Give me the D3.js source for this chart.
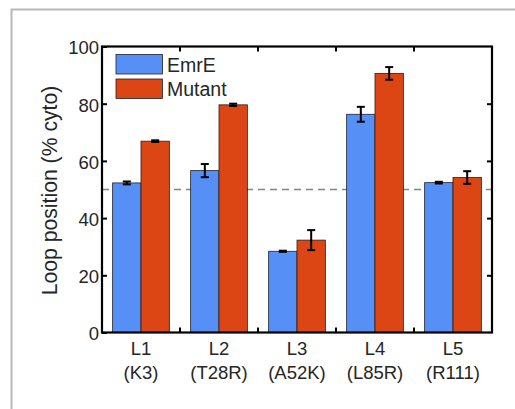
<!DOCTYPE html>
<html>
<head>
<meta charset="utf-8">
<script src="https://cdn.jsdelivr.net/npm/d3@7"></script>
<style>
  body { margin: 0; background: #fff; }
  svg { display: block; font-family: "Liberation Sans", Arial, sans-serif; }
</style>
</head>
<body>
<div id="chart"></div>
<script>
const loops = ["L1", "L2", "L3", "L4", "L5"]
const mutations = ["(K3)", "(T28R)", "(A52K)", "(L85R)", "(R111)"]
const seriesNames = ["EmrE", "Mutant"]
const emreValues = [52.3, 56.6, 28.4, 76.3, 52.4]
const emreErrors = [0.5, 2.3, 0.2, 2.6, 0.3]
const mutantValues = [66.9, 79.6, 32.3, 90.6, 54.2]
const mutantErrors = [0.3, 0.4, 3.5, 2.2, 2.2]
const yTicks = [0, 20, 40, 60, 80, 100]
const threshold = 50

const width = 515
const height = 409
const margin = {top: 46.5, right: 23, bottom: 76.5, left: 102}
const colors = ["#5690f7", "#db4614"]
const textColor = "#262626"

const svg = d3.select("#chart").append("svg")
  .attr("width", width)
  .attr("height", height)

// outer frame of the figure panel
svg.append("path")
  .attr("d", `M11.5,${height} V9.5 H${width}`)
  .attr("fill", "none")
  .attr("stroke", "#b8b8b8")
  .attr("stroke-width", 2)

const x = d3.scaleBand()
  .domain(loops)
  .range([margin.left, width - margin.right])

const x1 = d3.scaleBand()
  .domain(seriesNames)
  .range([0, x.bandwidth()])
  .paddingInner(0)
  .paddingOuter(0.375)

const y = d3.scaleLinear()
  .domain([0, 100])
  .range([height - margin.bottom, margin.top])

const data = loops.flatMap((l, i) => [
  {loop: l, series: "EmrE", value: emreValues[i], err: emreErrors[i]},
  {loop: l, series: "Mutant", value: mutantValues[i], err: mutantErrors[i]}
])

// dashed 50% line
svg.append("line")
  .attr("x1", margin.left).attr("x2", width - margin.right)
  .attr("y1", y(threshold)).attr("y2", y(threshold))
  .attr("stroke", "#858585")
  .attr("stroke-width", 1.6)
  .attr("stroke-dasharray", "7,5")

svg.append("g")
  .selectAll("rect")
  .data(data)
  .join("rect")
    .attr("x", d => x(d.loop) + x1(d.series))
    .attr("y", d => y(d.value))
    .attr("width", x1.bandwidth())
    .attr("height", d => y(0) - y(d.value))
    .attr("fill", (d, i) => colors[i % 2])
    .attr("stroke", "#222")
    .attr("stroke-width", 0.8)

// error bars
const eb = svg.append("g")
  .attr("stroke", "#000")
  .attr("stroke-width", 2)
  .selectAll("g")
  .data(data)
  .join("g")
    .attr("transform", d => `translate(${x(d.loop) + x1(d.series) + x1.bandwidth() / 2},0)`)
eb.append("line")
  .attr("y1", d => y(d.value - d.err)).attr("y2", d => y(d.value + d.err))
eb.append("line")
  .attr("x1", -4).attr("x2", 4)
  .attr("y1", d => y(d.value + d.err)).attr("y2", d => y(d.value + d.err))
eb.append("line")
  .attr("x1", -4).attr("x2", 4)
  .attr("y1", d => y(d.value - d.err)).attr("y2", d => y(d.value - d.err))

// axes: ticks pointing inward, matlab style box
const tickLen = 5
const boundaries = loops.slice(1).map(l => x(l))

svg.append("g")
  .attr("transform", `translate(${margin.left},0)`)
  .call(d3.axisLeft(y).tickValues(yTicks).tickSizeInner(-tickLen).tickSizeOuter(0).tickPadding(3))
  .call(g => g.select(".domain").remove())
  .call(g => g.selectAll("line").attr("stroke-width", 2))
  .call(g => g.selectAll("text").attr("font-size", 18.5).attr("fill", textColor).attr("dy", "0.4em"))
  .attr("font-family", null)

svg.append("g")
  .attr("transform", `translate(${width - margin.right},0)`)
  .call(d3.axisRight(y).tickValues(yTicks.slice(1, -1)).tickSizeInner(-tickLen).tickSizeOuter(0).tickFormat(""))
  .call(g => g.select(".domain").remove())
  .call(g => g.selectAll("line").attr("stroke-width", 2))

for (const [yy, dir] of [[y(0), -1], [y(100), 1]]) {
  svg.append("g")
    .attr("stroke", "#000")
    .attr("stroke-width", 2)
    .selectAll("line")
    .data(boundaries)
    .join("line")
      .attr("x1", d => d).attr("x2", d => d)
      .attr("y1", yy).attr("y2", yy + dir * tickLen)
}

svg.append("rect")
  .attr("x", margin.left).attr("y", margin.top)
  .attr("width", width - margin.left - margin.right)
  .attr("height", height - margin.top - margin.bottom)
  .attr("fill", "none")
  .attr("stroke", "#000")
  .attr("stroke-width", 2.2)

// category labels
const cat = svg.append("g")
  .attr("font-size", 18.5)
  .attr("fill", textColor)
  .attr("text-anchor", "middle")
  .selectAll("text")
  .data(loops)
  .join("text")
    .attr("x", d => x(d) + x.bandwidth() / 2)
    .attr("y", y(0) + 22.5)
cat.append("tspan").text(d => d)
cat.append("tspan")
  .attr("x", d => x(d) + x.bandwidth() / 2)
  .attr("dy", 24)
  .text((d, i) => mutations[i])

svg.append("text")
  .attr("transform", `translate(56.5,${(y(0) + y(100)) / 2 + 1}) rotate(-90)`)
  .attr("text-anchor", "middle")
  .attr("font-size", 21.2)
  .attr("fill", textColor)
  .text("Loop position (% cyto)")

// legend
const legend = svg.append("g")
  .selectAll("g")
  .data(seriesNames)
  .join("g")
    .attr("transform", (d, i) => `translate(116,${54.5 + i * 24.5})`)
legend.append("rect")
  .attr("width", 46.5).attr("height", 19.5)
  .attr("fill", (d, i) => colors[i])
  .attr("stroke", "#222")
  .attr("stroke-width", 0.8)
legend.append("text")
  .attr("x", 51).attr("y", 17)
  .attr("font-size", 19.5)
  .attr("fill", textColor)
  .text(d => d)
</script>
</body>
</html>
